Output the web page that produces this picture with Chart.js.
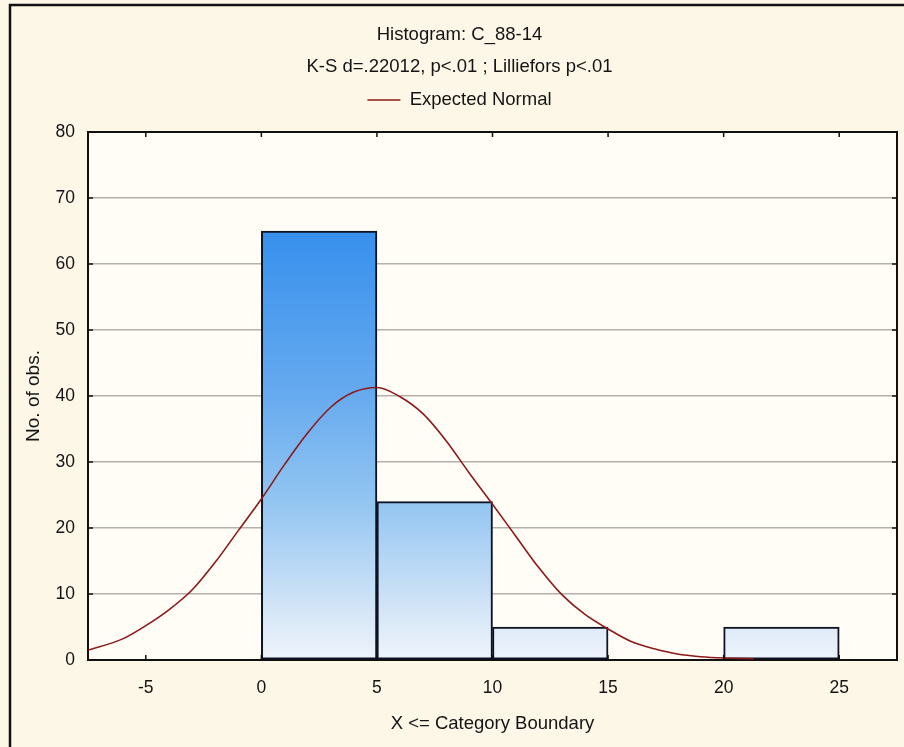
<!DOCTYPE html>
<html>
<head>
<meta charset="utf-8">
<script src="https://cdn.jsdelivr.net/npm/chart.js@4.4.1/dist/chart.umd.min.js"></script>
<style>
  html, body { margin: 0; padding: 0; background: #fdf7e8; }
  #wrap { width: 904px; height: 747px; position: relative; }
</style>
</head>
<body>
<div id="wrap"><canvas id="c"></canvas></div>
<script>
// ---- data ----
const binCenters = [2.5, 7.5, 12.5, 17.5, 22.5];          // bins 0-5, 5-10, 10-15, 15-20, 20-25
const binCounts  = [65, 24, 5, 0, 5];
const normalX = [-7.5, -6, -5, -4, -3, -2, -1, 0, 1, 2, 3, 4, 5, 6, 7, 8, 9, 10, 11, 12, 13, 14, 15, 16, 17, 18, 19, 20, 21.3];
const normalY = [1.5, 3.2, 5.2, 7.6, 10.6, 14.8, 19.6, 24.4, 29.6, 34.4, 38.3, 40.6, 41.3, 39.9, 37.3, 33.2, 28.3, 23.6, 18.8, 14.0, 9.9, 6.9, 4.7, 2.8, 1.7, 0.9, 0.5, 0.3, 0.2];
const xTickValues = [-5, 0, 5, 10, 15, 20, 25];
const yTickValues = [0, 10, 20, 30, 40, 50, 60, 70, 80];
const titleText = 'Histogram: C_88-14';
const subtitleText = 'K-S d=.22012, p<.01 ; Lilliefors p<.01';
const legendText = 'Expected Normal';
const xTitle = 'X <= Category Boundary';
const yTitle = 'No. of obs.';

const FONT = "'Liberation Sans', Arial, sans-serif";
const TXT = '#141414';

const barData = binCenters.map((x, i) => ({ x: x, y: binCounts[i] }));
const lineData = normalX.map((x, i) => ({ x: x, y: normalY[i] }));

function barGradient(ctx) {
  const chart = ctx.chart;
  if (!chart.chartArea) return '#8ec3ef';
  const y = chart.scales.y;
  const p0 = y.getPixelForValue(0);
  const p1 = y.getPixelForValue(Math.max(...binCounts));
  const g = chart.ctx.createLinearGradient(0, p0, 0, p1);
  g.addColorStop(0.00, 'rgb(238,244,251)');
  g.addColorStop(0.08, 'rgb(221,234,248)');
  g.addColorStop(0.37, 'rgb(146,197,241)');
  g.addColorStop(0.62, 'rgb(102,170,239)');
  g.addColorStop(1.00, 'rgb(55,144,237)');
  return g;
}

const bgPlugin = {
  id: 'bgPlugin',
  beforeDraw(chart) {
    const { ctx, chartArea: a, width, height } = chart;
    ctx.save();
    ctx.fillStyle = '#fdf7e8';
    ctx.fillRect(0, 0, width, height);
    ctx.fillStyle = '#fffdf6';
    ctx.fillRect(a.left, a.top, a.right - a.left, a.bottom - a.top);
    ctx.strokeStyle = '#111';
    ctx.lineWidth = 2.5;
    ctx.beginPath();
    ctx.moveTo(10, height);
    ctx.lineTo(10, 5);
    ctx.lineTo(width, 5);
    ctx.stroke();
    ctx.restore();
  },
  afterDraw(chart) {
    const { ctx, chartArea: a, scales } = chart;
    ctx.save();
    ctx.strokeStyle = '#111';
    ctx.lineWidth = 1.5;
    ctx.beginPath();
    xTickValues.forEach(v => {
      const px = scales.x.getPixelForValue(v);
      ctx.moveTo(px, a.bottom); ctx.lineTo(px, a.bottom - 5);
      ctx.moveTo(px, a.top); ctx.lineTo(px, a.top + 5);
    });
    yTickValues.forEach(v => {
      const py = scales.y.getPixelForValue(v);
      ctx.moveTo(a.left, py); ctx.lineTo(a.left + 5, py);
      ctx.moveTo(a.right, py); ctx.lineTo(a.right - 5, py);
    });
    ctx.stroke();
    ctx.restore();
  }
};

new Chart(document.getElementById('c'), {
  type: 'bar',
  data: {
    datasets: [
      {
        type: 'line',
        label: legendText,
        data: lineData,
        borderColor: '#8b1a1a',
        backgroundColor: '#8b1a1a',
        borderWidth: 1.6,
        pointRadius: 0,
        cubicInterpolationMode: 'monotone',
        fill: false,
        order: 0
      },
      {
        type: 'bar',
        label: 'bins',
        data: barData,
        backgroundColor: barGradient,
        borderColor: '#0e1222',
        borderWidth: 2,
        borderSkipped: false,
        barPercentage: 1.0,
        categoryPercentage: 1.0,
        grouped: false,
        order: 1
      }
    ]
  },
  options: {
    responsive: true,
    maintainAspectRatio: false,
    animation: false,
    layout: { padding: { left: 22, right: 7, top: 0, bottom: 9 } },
    plugins: {
      tooltip: { enabled: false },
      title: {
        display: true,
        text: titleText,
        color: TXT,
        font: { family: FONT, size: 18.5, weight: 'normal', lineHeight: 1.2 },
        padding: { top: 24, bottom: 4.9 }
      },
      subtitle: {
        display: true,
        text: subtitleText,
        color: TXT,
        font: { family: FONT, size: 18.5, weight: 'normal', lineHeight: 1.2 },
        padding: { top: 4.9, bottom: 2.6 }
      },
      legend: {
        display: true,
        position: 'top',
        labels: {
          filter: (item) => item.text === legendText,
          usePointStyle: true,
          pointStyle: 'line',
          pointStyleWidth: 33,
          color: TXT,
          padding: 10,
          font: { family: FONT, size: 18.5, weight: 'normal' }
        }
      }
    },
    scales: {
      x: {
        type: 'linear',
        position: 'bottom',
        min: -7.5,
        max: 27.5,
        offset: false,
        afterBuildTicks: (s) => { s.ticks = xTickValues.map(v => ({ value: v })); },
        afterFit: (s) => { s.height = 78; },
        grid: { display: false, drawTicks: false },
        border: { display: true, color: '#111', width: 2 },
        ticks: {
          padding: 18,
          color: TXT,
          font: { family: FONT, size: 17.5 },
          maxRotation: 0,
          autoSkip: false
        },
        title: {
          display: true,
          text: xTitle,
          color: TXT,
          font: { family: FONT, size: 18.5, lineHeight: 1.2 },
          padding: { top: 16.5, bottom: 3 }
        }
      },
      x2: {
        type: 'linear',
        position: 'top',
        min: -7.5,
        max: 27.5,
        afterBuildTicks: (s) => { s.ticks = xTickValues.map(v => ({ value: v })); },
        grid: { display: false, drawTicks: false },
        border: { display: true, color: '#111', width: 2 },
        ticks: { display: false },
        afterFit: (s) => { s.height = 12.75; }
      },
      y: {
        type: 'linear',
        position: 'left',
        min: 0,
        max: 80,
        afterBuildTicks: (s) => { s.ticks = yTickValues.map(v => ({ value: v })); },
        grid: { display: true, drawTicks: false, color: '#b7b0a8', lineWidth: 1.5 },
        border: { display: true, color: '#111', width: 2 },
        ticks: {
          padding: 13,
          color: TXT,
          font: { family: FONT, size: 17.5 }
        },
        title: {
          display: true,
          text: yTitle,
          color: TXT,
          font: { family: FONT, size: 19, lineHeight: 1.2 },
          padding: { top: 0, bottom: 0 }
        },
        afterFit: (s) => { s.width = 66; }
      },
      y2: {
        type: 'linear',
        position: 'right',
        min: 0,
        max: 80,
        grid: { display: false, drawTicks: false },
        border: { display: true, color: '#111', width: 2 },
        ticks: { display: false },
        afterFit: (s) => { s.width = 0; }
      }
    }
  },
  plugins: [bgPlugin]
});
</script>
</body>
</html>
